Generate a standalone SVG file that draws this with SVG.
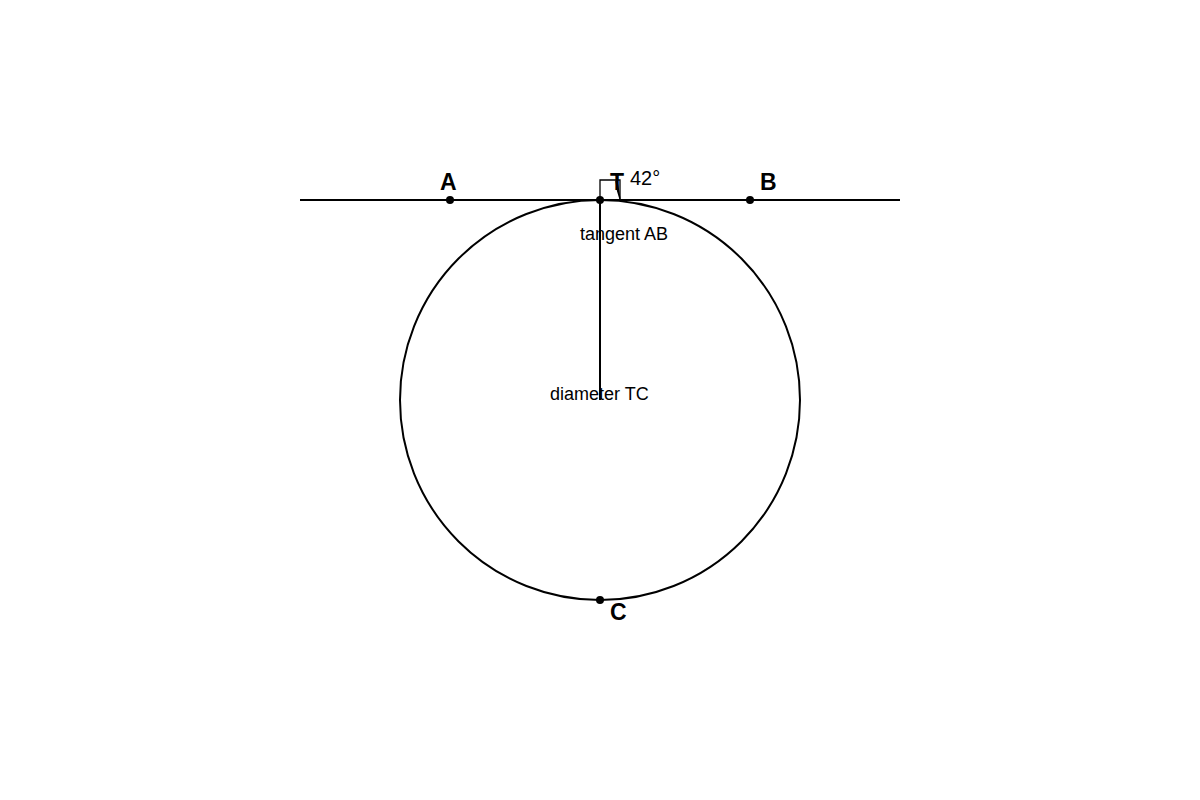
<svg xmlns="http://www.w3.org/2000/svg" width="1200" height="800" viewBox="0 0 1200 800">
<style>
.ln{stroke:#000;stroke-width:2;fill:none}
.thin{stroke:#000;stroke-width:1.3;fill:none}
.pt{fill:#000}
.lbl{font-family:"Liberation Sans",Arial,sans-serif;font-size:23px;font-weight:bold;fill:#000}
.txt{font-family:"Liberation Sans",Arial,sans-serif;font-size:18px;fill:#000}
.ang{font-family:"Liberation Sans",Arial,sans-serif;font-size:20px;fill:#000}
</style>
<rect width="1200" height="800" fill="#fff"/>
<g id="connectors">
<line class="ln" x1="300" y1="200" x2="900" y2="200"/>
<line class="ln" x1="600" y1="200" x2="600" y2="400"/>
<path class="thin" d="M600 200 V180 H620 V200"/>
<path class="thin" d="M617 181 L620 199 M616 181 Q617 191 620 199"/>
</g>
<g id="circle"><circle class="ln" cx="600" cy="400" r="200"/></g>
<g id="A"><circle class="pt" cx="450" cy="200" r="4"/><text class="lbl" x="440" y="190">A</text></g>
<g id="T"><circle class="pt" cx="600" cy="200" r="4"/><text class="lbl" x="610" y="190">T</text></g>
<g id="B"><circle class="pt" cx="750" cy="200" r="4"/><text class="lbl" x="760" y="190">B</text></g>
<g id="C"><circle class="pt" cx="600" cy="600" r="4"/><text class="lbl" x="610" y="620">C</text></g>
<text class="ang" x="630" y="185">42°</text>
<text class="txt" x="580" y="240">tangent AB</text>
<text class="txt" x="550" y="400">diameter TC</text>
</svg>
